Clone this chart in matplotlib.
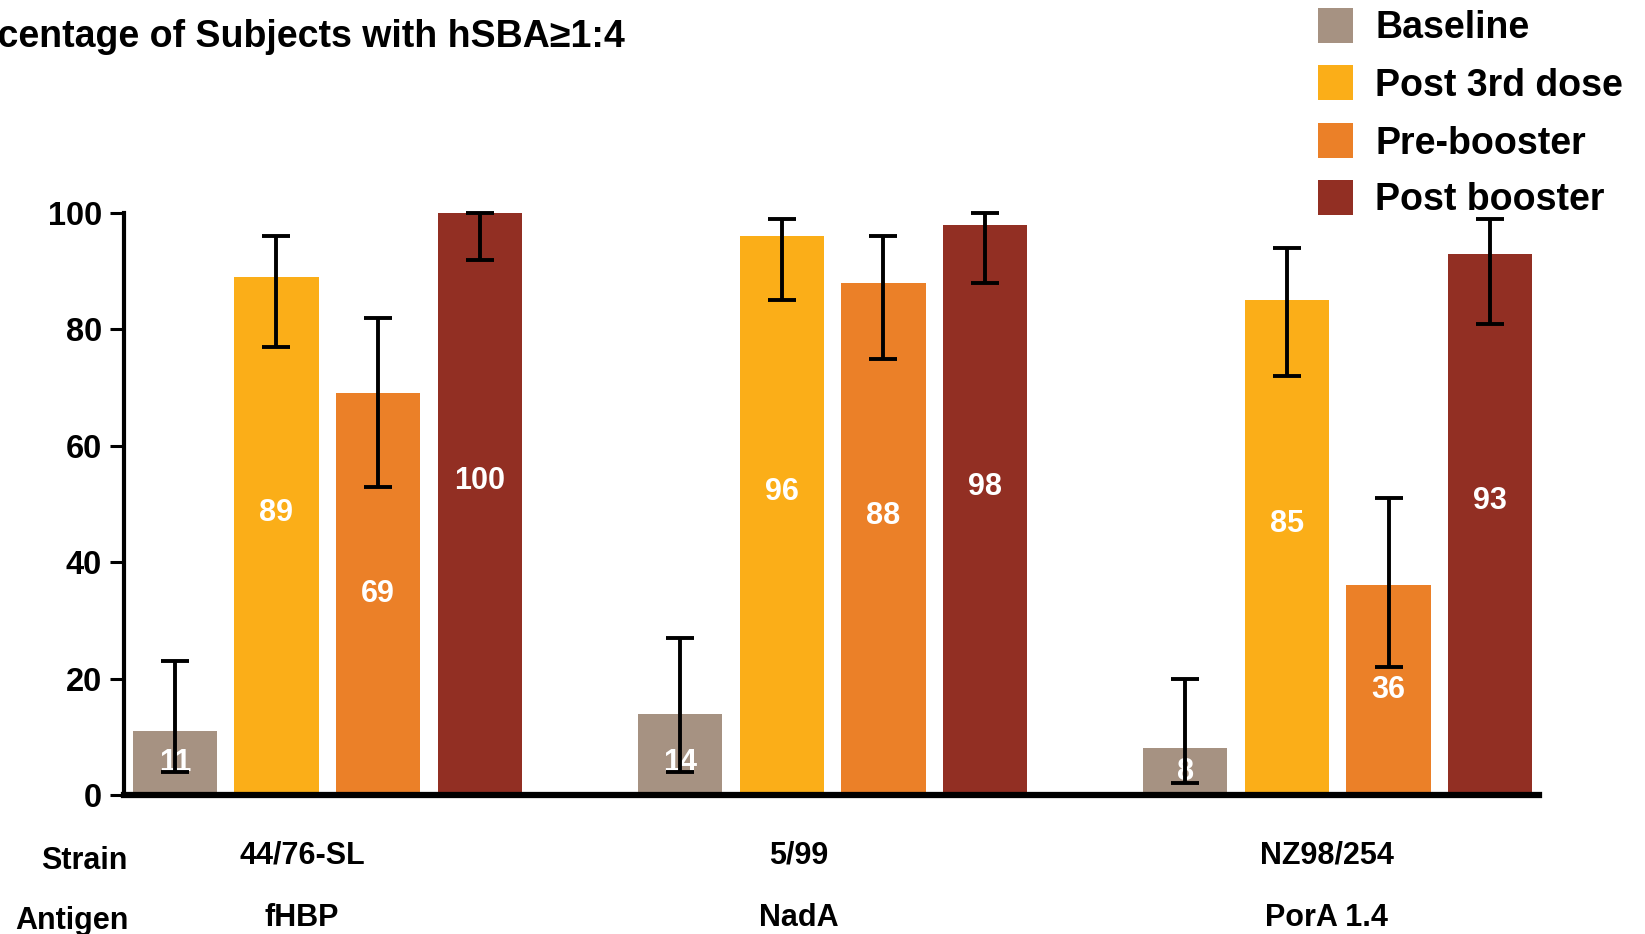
import numpy as np
import matplotlib
matplotlib.use("Agg")
import matplotlib.pyplot as plt
from matplotlib.patches import Rectangle

# Data: percentage of subjects with hSBA >= 1:4, with 95% CI bounds
strains = ["44/76-SL", "5/99", "NZ98/254"]
antigens = ["fHBP", "NadA", "PorA 1.4"]
series = ["Baseline", "Post 3rd dose", "Pre-booster", "Post booster"]
colors = ["#A69282", "#FBAE18", "#EB8028", "#922F23"]

baseline = [11, 14, 8]
baseline_lo = [4, 4, 2]
baseline_hi = [23, 27, 20]

post_3rd = [89, 96, 85]
post_3rd_lo = [77, 85, 72]
post_3rd_hi = [96, 99, 94]

pre_booster = [69, 88, 36]
pre_booster_lo = [53, 75, 22]
pre_booster_hi = [82, 96, 51]

post_booster = [100, 98, 93]
post_booster_lo = [92, 88, 81]
post_booster_hi = [100, 100, 99]

values = [baseline, post_3rd, pre_booster, post_booster]
lows = [baseline_lo, post_3rd_lo, pre_booster_lo, post_booster_lo]
highs = [baseline_hi, post_3rd_hi, pre_booster_hi, post_booster_hi]

plt.rcParams["font.family"] = ["Liberation Sans", "DejaVu Sans"]
plt.rcParams["font.weight"] = "bold"

W, H = 1645, 934
fig = plt.figure(figsize=(W / 100, H / 100), dpi=100)
ax = fig.add_axes([124 / W, 1 - 795 / H, (1539 - 124) / W, (795 - 213) / H])

group_x = np.arange(len(strains)) * 4.97
offsets = [-1.5, -0.5, 0.5, 1.5]
bar_w = 0.83


def label_height(v):
    # tall bars carry their label a little above mid-height, short ones near the base
    if v > 75:
        return v / 2 + 4
    if v >= 20:
        return v / 2
    return min(v / 2, 5.5)


for vals, lo, hi, col, off in zip(values, lows, highs, colors, offsets):
    v = np.array(vals, dtype=float)
    x = group_x + off
    ax.bar(x, v, width=bar_w, color=col, zorder=2)
    yerr = [v - np.array(lo), np.array(hi) - v]
    ax.errorbar(x, v, yerr=yerr, fmt="none", ecolor="black", elinewidth=2.8,
                capsize=10, capthick=2.8, zorder=4, clip_on=False)
    for xi, vi in zip(x, v):
        ax.text(xi, label_height(vi), f"{vi:.0f}", ha="center", va="center",
                color="white", fontsize=22, fontweight="bold", zorder=3)

ax.set_xlim(-2.0, 11.92)
ax.set_ylim(0, 100)
ax.set_yticks([0, 20, 40, 60, 80, 100])
ax.set_xticks([])
for s in ["top", "right"]:
    ax.spines[s].set_visible(False)
ax.spines["left"].set_linewidth(3)
ax.spines["bottom"].set_linewidth(4.5)
ax.spines["bottom"].set_zorder(5)
ax.tick_params(axis="y", length=10, width=2.2, pad=6, labelsize=23.5)
for lab in ax.get_yticklabels():
    lab.set_fontweight("bold")

# Strain / antigen rows below the axis
label_shift = [-0.25, -0.33, -0.11]
to_fig = fig.transFigure.inverted()
for gx, dx, st, ag in zip(group_x, label_shift, strains, antigens):
    xf = to_fig.transform(ax.transData.transform((gx + dx, 0)))[0]
    fig.text(xf, 1 - 855 / H, st, ha="center", va="center", fontsize=22, fontweight="bold")
    fig.text(xf, 1 - 918 / H, ag, ha="center", va="center", fontsize=22, fontweight="bold")

fig.text(127 / W, 1 - 861 / H, "Strain", ha="right", va="center", fontsize=22, fontweight="bold")
fig.text(129 / W, 1 - 921 / H, "Antigen", ha="right", va="center", fontsize=22, fontweight="bold")

# Title, partly running off the left edge
fig.text(-63 / W, 1 - 47 / H, "Percentage of Subjects with hSBA\u22651:4",
         ha="left", va="baseline", fontsize=27, fontweight="bold")

# Legend drawn as squares and labels
row_centers = [25, 82, 140, 197]
sq = 35
for name, col, yc in zip(series, colors, row_centers):
    fig.add_artist(Rectangle((1318 / W, 1 - (yc + sq / 2) / H), sq / W, sq / H,
                             transform=fig.transFigure, facecolor=col, edgecolor="none"))
    fig.text(1375 / W, 1 - (yc + 13.5) / H, name, ha="left", va="baseline",
             fontsize=27, fontweight="bold")

fig.savefig("out.png", dpi=100)
